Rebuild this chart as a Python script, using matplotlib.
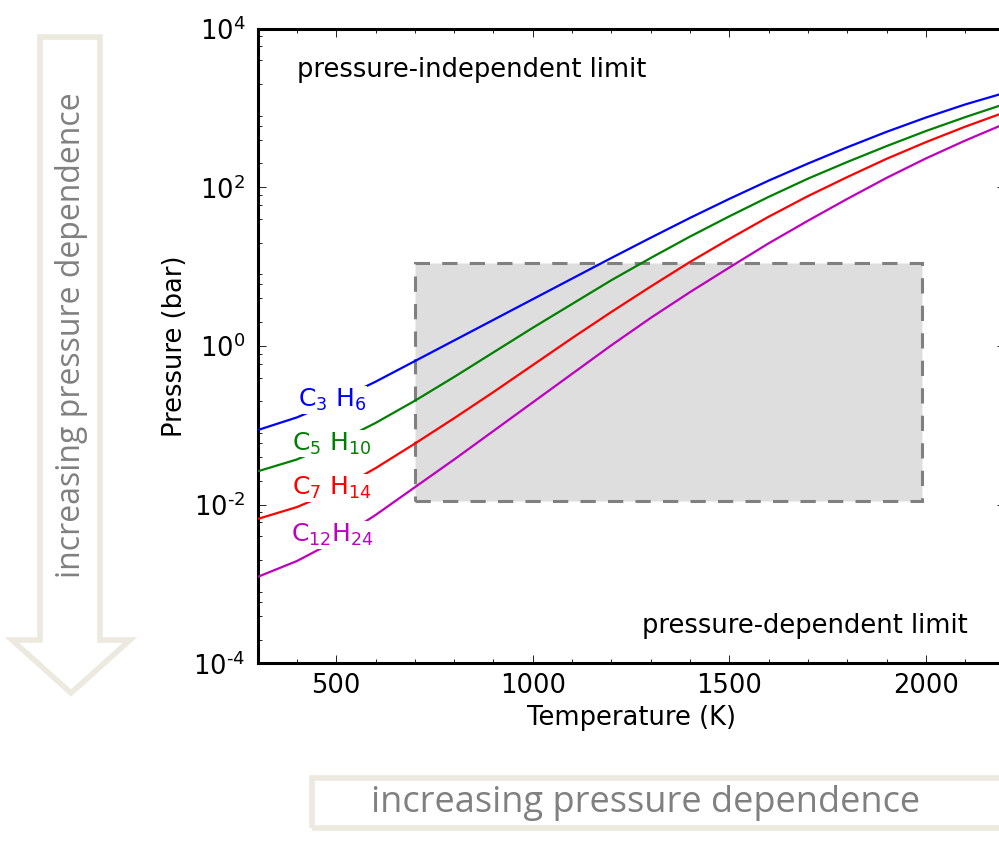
import numpy as np
import matplotlib
matplotlib.use("Agg")
import matplotlib.pyplot as plt
from matplotlib.patches import Rectangle, Polygon
from matplotlib.ticker import FixedLocator, MultipleLocator, FixedFormatter

# ---------------------------------------------------------------------------
# data (log10 of pressure in bar)
# ---------------------------------------------------------------------------
temps = [300, 400, 500, 600, 700, 800, 900, 1000, 1100, 1200,
         1300, 1400, 1500, 1600, 1700, 1800, 1900, 2000, 2100, 2200]

logp_c3h6 = [-1.06, -0.90, -0.69, -0.45, -0.19, 0.07, 0.33, 0.59, 0.85, 1.11,
             1.365, 1.615, 1.855, 2.085, 2.30, 2.505, 2.70, 2.88, 3.045, 3.19]
logp_c5h10 = [-1.58, -1.43, -1.22, -0.97, -0.69, -0.39, -0.08, 0.23, 0.53, 0.83,
              1.11, 1.38, 1.635, 1.88, 2.11, 2.32, 2.52, 2.71, 2.885, 3.05]
logp_c7h14 = [-2.18, -2.03, -1.82, -1.54, -1.23, -0.91, -0.58, -0.24, 0.10, 0.43,
              0.75, 1.06, 1.35, 1.63, 1.89, 2.13, 2.36, 2.57, 2.765, 2.945]
logp_c12h24 = [-2.91, -2.71, -2.45, -2.13, -1.78, -1.43, -1.07, -0.71, -0.35, 0.01,
               0.355, 0.68, 0.99, 1.295, 1.58, 1.855, 2.12, 2.365, 2.59, 2.80]

species = ['C$_3$ H$_6$', 'C$_5$ H$_{10}$', 'C$_7$ H$_{14}$', 'C$_{12}$H$_{24}$']
colors = ['b', 'g', 'r', 'm']
# where the species names sit (T in K, log10 P)
label_T = [490, 490, 490, 490]
label_logp = [-0.68, -1.23, -1.79, -2.38]

# shaded window of experimental conditions
box_T = [700, 1990]
box_P = [0.011, 11]

yticks = [1e-4, 1e-2, 1e0, 1e2, 1e4]
yticklabels = ['$10^{\u20104}$', '$10^{\u20102}$', '$10^{0}$', '$10^{2}$', '$10^{4}$']

# ---------------------------------------------------------------------------
fig = plt.figure(figsize=(9.99, 8.49), dpi=100)
ax = fig.add_axes([0.2578, 0.2186, 0.7479, 0.7477])

ax.add_patch(Rectangle((box_T[0], box_P[0]), box_T[1] - box_T[0], box_P[1] - box_P[0],
                       facecolor='#dedede', edgecolor='#808080', lw=2.2,
                       ls=(0, (5, 4)), zorder=1))

all_logp = [logp_c3h6, logp_c5h10, logp_c7h14, logp_c12h24]
for logp, col, name, tl, lp in zip(all_logp, colors, species, label_T, label_logp):
    ax.plot(temps, 10 ** np.array(logp), color=col, lw=1.6, zorder=3)
    ax.text(tl, 10 ** lp, name, color=col, fontsize=18, ha='center', va='center',
            zorder=4, bbox=dict(facecolor='white', edgecolor='none', pad=0.5))

ax.set_yscale('log')
ax.set_xlim(300, 2200)
ax.set_ylim(1e-4, 1e4)

ax.xaxis.set_major_locator(FixedLocator([500, 1000, 1500, 2000]))
ax.xaxis.set_minor_locator(MultipleLocator(100))
ax.yaxis.set_major_locator(FixedLocator(yticks))
ax.yaxis.set_major_formatter(FixedFormatter(yticklabels))
minor_y = [m * 10.0 ** e for e in range(-4, 4) for m in (2, 4, 6, 8)]
ax.yaxis.set_minor_locator(FixedLocator(minor_y))

ax.tick_params(which='both', direction='in', top=True, right=True,
               width=0.7, colors='#222222', labelcolor='black')
ax.tick_params(which='major', length=5.8, labelsize=18.5)
ax.tick_params(axis='x', which='major', pad=7)
ax.tick_params(axis='y', which='major', pad=9)
ax.tick_params(which='minor', length=2.9)
for sp in ax.spines.values():
    sp.set_linewidth(2.2)

ax.set_xlabel('Temperature (K)', fontsize=18.5, labelpad=4)
ax.set_ylabel('Pressure (bar)', fontsize=18.5, labelpad=4)

ax.text(400, 3000, 'pressure-independent limit', fontsize=18.5, ha='left', va='center')
ax.text(2105, 3e-4, 'pressure-dependent limit', fontsize=18.5, ha='right', va='center')

# ---------------------------------------------------------------------------
# decorations outside the axes (pixel positions -> figure fraction)
W, H = 999.0, 849.0
edge = '#ECE9DF'


def fxy(pts):
    return [(x / W, 1 - y / H) for x, y in pts]


arrow_px = [(40, 37), (100, 37), (100, 640), (130, 640), (71, 693), (12, 640), (40, 640)]
fig.patches.append(Polygon(fxy(arrow_px), closed=True, fill=False, edgecolor=edge,
                           lw=4, joinstyle='miter', transform=fig.transFigure))
fig.text(72 / W, 1 - 335 / H, 'increasing pressure dependence', rotation=90,
         ha='center', va='center', fontsize=23, color='#808080', family='Open Sans')

fig.patches.append(Rectangle((312 / W, 1 - 828 / H), 720 / W, 50 / H, fill=False,
                             edgecolor=edge, lw=4, transform=fig.transFigure))
fig.text(646 / W, 1 - 803 / H, 'increasing pressure dependence',
         ha='center', va='center', fontsize=26, color='#808080', family='Open Sans')

fig.savefig('out.png', dpi=100)
